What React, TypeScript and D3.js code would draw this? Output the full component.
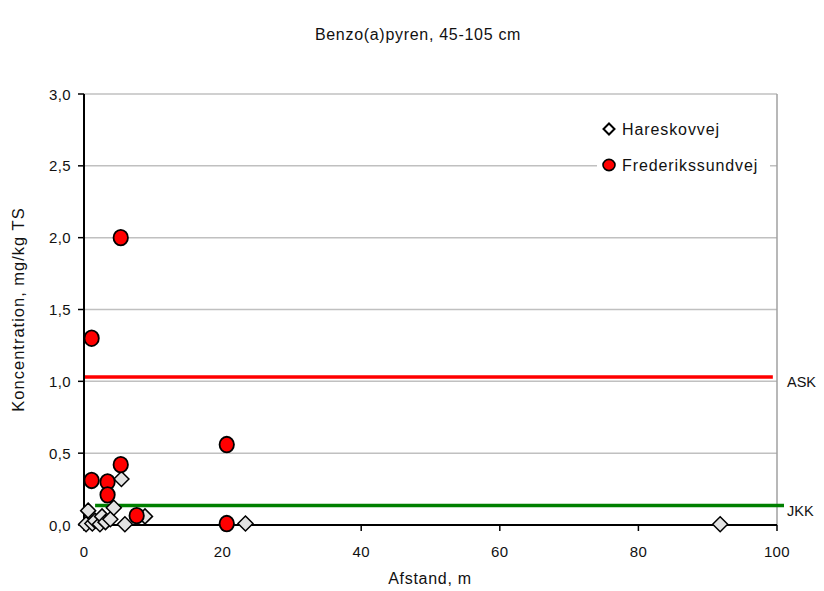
import React from "react";
import * as d3 from "d3";

const title = "Benzo(a)pyren, 45-105 cm";
const xLabel = "Afstand, m";
const yLabel = "Koncentration, mg/kg TS";

const xTicks = [0, 20, 40, 60, 80, 100];
const yTicks = [0, 0.5, 1.0, 1.5, 2.0, 2.5, 3.0];

// Hareskovvej samples: distance (m), concentration (mg/kg TS)
const hareskovX = [0.3, 0.6, 1.2, 1.6, 2.3, 2.6, 3.1, 3.8, 4.3, 5.4, 5.9, 8.8, 23.3, 91.8];
const hareskovY = [0.005, 0.1, 0.01, 0.03, 0.005, 0.06, 0.02, 0.04, 0.12, 0.32, 0.005, 0.06, 0.01, 0.005];

// Frederikssundvej samples
const frederikX = [1.1, 5.3, 1.1, 3.4, 3.4, 5.3, 7.6, 20.6, 20.6];
const frederikY = [1.3, 2.0, 0.31, 0.3, 0.21, 0.42, 0.065, 0.56, 0.01];

// Reference limits
const limitNames = ["ASK", "JKK"];
const limitValues = [1.03, 0.135];
const limitColors = ["#ff0000", "#008000"];

const W = 824;
const H = 591;
const margin = { left: 84, right: 47, top: 94, bottom: 66 };
const FONT = "'Liberation Sans', Arial, sans-serif";

export default function App() {
  const x = d3.scaleLinear().domain([0, 100]).range([margin.left, W - margin.right]);
  const y = d3.scaleLinear().domain([0, 3]).range([H - margin.bottom, margin.top]);
  const fmt = (v: number) => d3.format(".1f")(v).replace(".", ",");

  const hareskov = hareskovX.map((d, i) => [d, hareskovY[i]]);
  const frederik = frederikX.map((d, i) => [d, frederikY[i]]);

  const diamond = (cx: number, cy: number, r: number) =>
    `M${cx},${cy - r}L${cx + r},${cy}L${cx},${cy + r}L${cx - r},${cy}Z`;

  const x0 = x(0), x1 = x(100), y0 = y(0), y1 = y(3);

  return (
    <svg width={W} height={H} style={{ position: "absolute", left: 0, top: 0 }} fontFamily={FONT}>
      <rect width={W} height={H} fill="#fff" />
      <text x={418} y={40} textAnchor="middle" fontSize={16} letterSpacing={0.7} fill="#111">{title}</text>

      {/* gridlines */}
      {yTicks.filter((t) => t > 0).map((t) => (
        <line key={t} x1={x0} x2={x1} y1={y(t)} y2={y(t)} stroke="#c0c0c0" strokeWidth={1.5} />
      ))}
      <line x1={x1} x2={x1} y1={y1} y2={y0} stroke="#a0a0a0" strokeWidth={1.5} />

      {/* legend box */}
      <rect x={597} y={112} width={173} height={70} fill="#fff" />
      <path d={diamond(609, 129, 5.5)} fill="#fff" stroke="#000" strokeWidth={2} />
      <text x={622} y={135} fontSize={16} letterSpacing={0.9} fill="#111">{"Hareskovvej"}</text>
      <ellipse cx={609} cy={165} rx={6} ry={5.6} fill="#ff0000" stroke="#000" strokeWidth={1.6} />
      <text x={622} y={171} fontSize={16} letterSpacing={0.9} fill="#111">{"Frederikssundvej"}</text>

      {/* limit lines */}
      <line x1={x0} x2={x(99.4)} y1={y(limitValues[0])} y2={y(limitValues[0])} stroke={limitColors[0]} strokeWidth={3.5} />
      <line x1={x(1.6)} x2={x1 + 7} y1={y(limitValues[1])} y2={y(limitValues[1])} stroke={limitColors[1]} strokeWidth={3.5} />
      <text x={787} y={y(1.0) + 5.5} fontSize={14.5} fill="#111">{limitNames[0]}</text>
      <text x={787} y={y(limitValues[1]) + 10} fontSize={14.5} fill="#111">{limitNames[1]}</text>

      {/* axes */}
      <line x1={x0} x2={x0} y1={y1} y2={y0} stroke="#000" strokeWidth={2} />
      <line x1={x0} x2={x1} y1={y0} y2={y0} stroke="#000" strokeWidth={2} />
      {yTicks.map((t) => (
        <g key={t}>
          <line x1={x0 - 6} x2={x0} y1={y(t)} y2={y(t)} stroke="#000" strokeWidth={1.5} />
          <text x={x0 - 13} y={y(t) + 5.5} textAnchor="end" fontSize={15} letterSpacing={0.4} fill="#111">{fmt(t)}</text>
        </g>
      ))}
      {xTicks.map((t) => (
        <g key={t}>
          <line x1={x(t)} x2={x(t)} y1={y0} y2={y0 + 6} stroke="#000" strokeWidth={1.5} />
          <text x={x(t)} y={y0 + 32} textAnchor="middle" fontSize={15} letterSpacing={0.4} fill="#111">{t}</text>
        </g>
      ))}
      <text x={430} y={584} textAnchor="middle" fontSize={16} letterSpacing={0.7} fill="#111">{xLabel}</text>
      <text transform={`translate(24,${(y0 + y1) / 2}) rotate(-90)`} textAnchor="middle" fontSize={16.5} letterSpacing={1} fill="#111">{yLabel}</text>

      {/* points */}
      {hareskov.map(([a, b], i) => (
        <path key={"h" + i} d={diamond(x(a), y(b), 7.5)} fill="#e3e3e3" stroke="#000" strokeWidth={1.5} />
      ))}
      {frederik.map(([a, b], i) => (
        <ellipse key={"f" + i} cx={x(a)} cy={y(b)} rx={7.2} ry={7.8} fill="#ff0000" stroke="#000" strokeWidth={1.8} />
      ))}
    </svg>
  );
}
